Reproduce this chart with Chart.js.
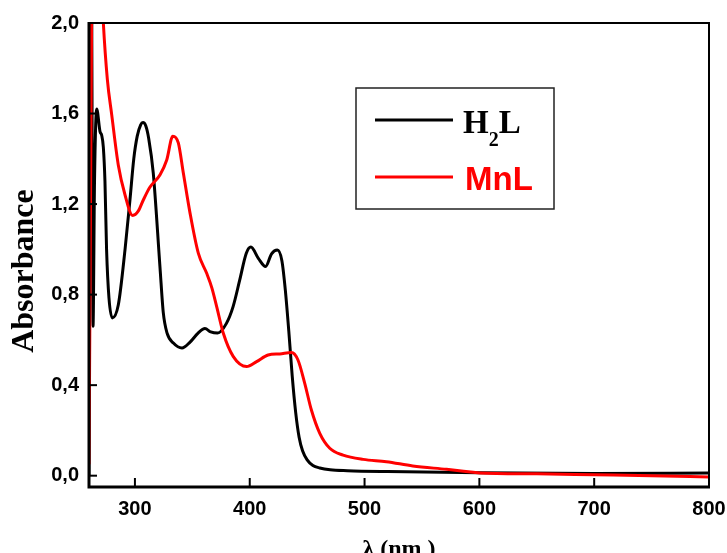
<!DOCTYPE html>
<html lang="en">
<head>
    <meta charset="utf-8">
    <title>UV-Vis Absorbance</title>
    <script src="https://cdn.jsdelivr.net/npm/chart.js"></script>
    <style>
        /* plain white page, canvas fills the window */
        body { margin: 0; background: #fff; overflow: hidden; }
        #chartCanvas { display: block; }
    </style>
</head>
<body>
    <canvas id="chartCanvas" width="727" height="553"></canvas>
<script>
    // ---- data ----
    const h2lWavelength = [260, 260.8, 262, 263.5, 264.8, 266.7, 269.6, 271, 272.5, 273.9, 275.3, 277.4, 280.3, 285.5, 291.4, 295.7, 299, 302, 305, 307, 309.5, 312, 316, 321.8, 324.7, 328, 333.5, 341, 348, 355, 361, 366, 372, 379.7, 385.5, 391.3, 397, 401, 407.5, 413.8, 419, 424, 428, 431, 434, 437, 440, 443, 446, 450, 455, 461, 470, 485, 520, 600, 700, 800];
    const h2lAbs = [0.0, 2.3, 2.3, 0.66, 1.3, 1.62, 1.52, 1.505, 1.45, 1.30, 1.0, 0.785, 0.697, 0.754, 1.0, 1.22, 1.40, 1.50, 1.55, 1.56, 1.545, 1.49, 1.336, 0.923, 0.72, 0.63, 0.586, 0.564, 0.59, 0.63, 0.65, 0.635, 0.63, 0.673, 0.747, 0.865, 0.983, 1.01, 0.96, 0.924, 0.98, 0.997, 0.95, 0.82, 0.64, 0.44, 0.28, 0.17, 0.11, 0.07, 0.045, 0.034, 0.026, 0.022, 0.018, 0.013, 0.01, 0.012];

    const mnlWavelength = [260, 261, 262.5, 265, 269, 272.5, 276, 279.8, 285.5, 291.4, 298, 303, 307.3, 313, 321.9, 327.7, 333, 337.8, 342.2, 348, 355.2, 362.5, 367, 371.2, 377, 385.7, 397.3, 406, 416, 426.2, 436.4, 442, 447.9, 453.7, 461, 469.7, 481.3, 498.7, 519, 542, 571.4, 594.6, 600, 650, 700, 750, 800];
    const mnlAbs = [0.05, 0.9, 2.2, 2.6, 2.4, 2.0, 1.75, 1.594, 1.373, 1.24, 1.15, 1.17, 1.218, 1.274, 1.33, 1.395, 1.50, 1.47, 1.336, 1.16, 0.983, 0.894, 0.83, 0.747, 0.629, 0.526, 0.482, 0.504, 0.533, 0.538, 0.544, 0.511, 0.408, 0.29, 0.187, 0.121, 0.091, 0.072, 0.062, 0.043, 0.028, 0.015, 0.012, 0.008, 0.004, 0.0, -0.006];

    const xTicks = [300, 400, 500, 600, 700, 800];
    const yTicks = [0.0, 0.4, 0.8, 1.2, 1.6, 2.0];

    // turn two arrays into {x, y} points
    function toPoints(xs, ys) {
        return xs.map((x, i) => ({ x: x, y: ys[i] }));
    }

    // frame, inward ticks, y title and the boxed legend
    const framePlugin = {
        id: 'frame',
        afterDraw(chart) {
            const ctx = chart.ctx;
            const a = chart.chartArea;
            const xs = chart.scales.x;
            const ys = chart.scales.y;
            ctx.save();
            ctx.strokeStyle = '#000';
            ctx.lineCap = 'butt';

            // thin top and right border
            ctx.lineWidth = 2;
            ctx.beginPath();
            ctx.moveTo(a.left, a.top);
            ctx.lineTo(a.right, a.top);
            ctx.lineTo(a.right, a.bottom);
            ctx.stroke();

            // thicker axes
            ctx.lineWidth = 3;
            ctx.beginPath();
            ctx.moveTo(a.left, a.top - 1);
            ctx.lineTo(a.left, a.bottom);
            ctx.lineTo(a.right + 1, a.bottom);
            ctx.stroke();

            // ticks pointing into the plot
            ctx.lineWidth = 2;
            xTicks.forEach(v => {
                const px = xs.getPixelForValue(v);
                ctx.beginPath();
                ctx.moveTo(px, a.bottom);
                ctx.lineTo(px, a.bottom - 9);
                ctx.stroke();
            });
            yTicks.forEach(v => {
                const py = ys.getPixelForValue(v);
                ctx.beginPath();
                ctx.moveTo(a.left, py);
                ctx.lineTo(a.left + 8, py);
                ctx.stroke();
            });

            // y axis title, sits a bit below the middle in the original
            ctx.save();
            ctx.translate(33, 271);
            ctx.rotate(-Math.PI / 2);
            ctx.fillStyle = '#000';
            ctx.font = 'bold 32px "Liberation Serif"';
            ctx.textAlign = 'center';
            ctx.textBaseline = 'alphabetic';
            ctx.fillText('Absorbance', 0, 0);
            ctx.restore();

            // legend box
            ctx.lineWidth = 1.5;
            ctx.strokeStyle = '#222';
            ctx.strokeRect(356, 88, 198, 121);

            ctx.lineWidth = 3;
            ctx.strokeStyle = '#000';
            ctx.beginPath();
            ctx.moveTo(375, 120);
            ctx.lineTo(453, 120);
            ctx.stroke();
            ctx.strokeStyle = '#ff0000';
            ctx.beginPath();
            ctx.moveTo(375, 177);
            ctx.lineTo(453, 177);
            ctx.stroke();

            ctx.textBaseline = 'alphabetic';
            ctx.textAlign = 'left';
            ctx.fillStyle = '#000';
            ctx.font = 'bold 33px "Liberation Serif"';
            ctx.fillText('H', 463, 133);
            const hW = ctx.measureText('H').width;
            ctx.font = 'bold 20px "Liberation Serif"';
            ctx.fillText('2', 463 + hW, 146);
            const twoW = ctx.measureText('2').width;
            ctx.font = 'bold 33px "Liberation Serif"';
            ctx.fillText('L', 463 + hW + twoW, 133);

            ctx.fillStyle = '#ff0000';
            ctx.font = 'bold 33px "Liberation Sans"';
            ctx.fillText('MnL', 465, 190);
            ctx.restore();
        }
    };

    const ctx = document.getElementById('chartCanvas').getContext('2d');
    const chart = new Chart(ctx, {
        type: 'line',
        data: {
            datasets: [{
                label: 'H2L',
                data: toPoints(h2lWavelength, h2lAbs),
                borderColor: '#000000',
                borderWidth: 3,
                pointRadius: 0,
                cubicInterpolationMode: 'monotone',
                order: 1
            }, {
                label: 'MnL',
                data: toPoints(mnlWavelength, mnlAbs),
                borderColor: '#ff0000',
                borderWidth: 3,
                pointRadius: 0,
                cubicInterpolationMode: 'monotone',
                order: 0
            }]
        },
        options: {
            responsive: false,
            animation: false,
            devicePixelRatio: 1,
            layout: { padding: { top: 23, right: 18, left: 0, bottom: 0 } },
            plugins: {
                legend: { display: false },
                tooltip: { enabled: false }
            },
            scales: {
                x: {
                    type: 'linear',
                    min: 260,
                    max: 800,
                    grid: { display: false, drawTicks: false },
                    border: { display: false },
                    afterBuildTicks: scale => { scale.ticks = xTicks.map(v => ({ value: v })); },
                    afterFit: scale => {
                        scale.height = 66;
                        scale.paddingLeft = 0;
                        scale.paddingRight = 0;
                    },
                    ticks: {
                        color: '#000',
                        padding: 10,
                        maxRotation: 0,
                        font: { family: '"Liberation Sans"', size: 20, weight: 'bold' }
                    },
                    title: {
                        display: true,
                        text: 'λ (nm )',
                        color: '#000',
                        padding: { top: 0, bottom: -11 },
                        font: { family: '"Liberation Serif"', size: 24, weight: 'bold' }
                    }
                },
                y: {
                    min: -0.05,
                    max: 2.0,
                    grid: { display: false, drawTicks: false },
                    border: { display: false },
                    afterBuildTicks: scale => { scale.ticks = yTicks.map(v => ({ value: v })); },
                    afterFit: scale => { scale.width = 89; },
                    ticks: {
                        color: '#000',
                        padding: 10,
                        font: { family: '"Liberation Sans"', size: 20, weight: 'bold' },
                        callback: v => v.toFixed(1).replace('.', ',')
                    }
                }
            }
        },
        plugins: [framePlugin]
    });
</script>
</body>
</html>
